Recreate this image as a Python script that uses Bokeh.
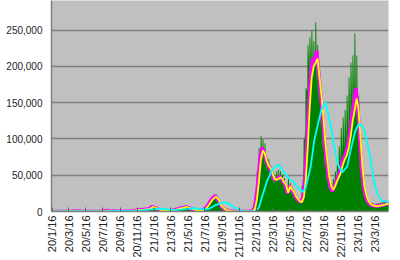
import pandas as pd
from math import pi
from bokeh.plotting import figure
from bokeh.models import Range1d, FixedTicker, NumeralTickFormatter
from bokeh.embed import file_html
from bokeh.resources import INLINE

# ---------------- data ----------------
tick_labels = ["20/1/16", "20/3/16", "20/5/16", "20/7/16", "20/9/16", "20/11/16",
               "21/1/16", "21/3/16", "21/5/16", "21/7/16", "21/9/16", "21/11/16",
               "22/1/16", "22/3/16", "22/5/16", "22/7/16", "22/9/16", "22/11/16",
               "23/1/16", "23/3/16"]
y_ticks = [0, 50000, 100000, 150000, 200000, 250000]

# daily new cases (green area), 2020-2021
green_early_dates = ["2020-01-16", "2020-03-01", "2020-04-01", "2020-04-11", "2020-05-01", "2020-05-25",
                     "2020-07-01", "2020-07-20", "2020-08-07", "2020-09-01", "2020-10-01", "2020-11-01",
                     "2020-11-20", "2020-12-10", "2020-12-31", "2021-01-08", "2021-01-20", "2021-02-01",
                     "2021-02-20", "2021-03-10", "2021-04-01", "2021-04-20", "2021-05-08", "2021-05-20",
                     "2021-06-05", "2021-06-25", "2021-07-10", "2021-07-25", "2021-07-29", "2021-08-02",
                     "2021-08-05", "2021-08-09", "2021-08-12", "2021-08-16", "2021-08-20", "2021-08-23",
                     "2021-08-26", "2021-08-30", "2021-09-02", "2021-09-06", "2021-09-09", "2021-09-15",
                     "2021-09-25", "2021-10-10", "2021-10-25", "2021-11-15", "2021-12-15", "2021-12-27"]
green_early = [0, 20, 250, 700, 200, 30,
               150, 700, 1600, 600, 600, 900,
               2400, 3000, 4500, 7900, 5500, 2500,
               1300, 1300, 2500, 5000, 7200, 5800,
               3000, 1800, 2500, 6000, 10700, 9000,
               15200, 13000, 18800, 15000, 25900, 18000,
               24900, 14000, 16700, 7000, 9000, 6000,
               2000, 800, 300, 150, 200, 350]

# 2022-2023: weekly body level (Mondays from 2022-01-03) and weekly high (Tue-Fri around Thursdays from 2022-01-06)
green_lo = [800, 10000, 25000, 50000, 70000, 68000, 64000, 56000, 52000, 46000, 40000, 35000, 38000,
            40000, 40000, 36000, 32000, 24000, 30000, 26000, 23000, 18000, 15000, 12500, 11500,
            16000, 55000, 110000, 165000, 195000, 195000, 180000, 195000, 165000, 145000, 115000,
            82000, 60000, 42000, 30000, 26000, 31000, 38000, 45000, 55000, 68000, 78000, 85000,
            95000, 110000, 130000, 145000, 150000, 125000, 92000, 52000, 31000, 20000, 13000,
            9500, 8000, 7000, 6500, 6500, 7000, 7500, 8000, 8500, 9000, 9000, 9500]
green_hi = [4500, 25000, 55000, 88000, 104000, 100000, 94000, 76000, 72000, 62000, 56000, 51000,
            56000, 58000, 56000, 51000, 46000, 36000, 46000, 39000, 33000, 27000, 22000, 18000,
            17000, 35000, 100000, 170000, 230000, 240000, 250000, 235000, 261000, 230000, 195000,
            160000, 115000, 90000, 60000, 45000, 40000, 45000, 55000, 65000, 90000, 115000, 130000,
            140000, 160000, 185000, 205000, 215000, 246000, 215000, 160000, 90000, 52000, 33000,
            22000, 15000, 13000, 12000, 11000, 11000, 12000, 12000, 13000, 14000, 15000, 13000]

# 7-day average (yellow) - early part at listed dates, then weekly (Wednesdays from 2022-01-05)
avg_early_dates = ["2020-01-16", "2020-03-01", "2020-04-01", "2020-04-14", "2020-05-01", "2020-05-20",
                   "2020-06-15", "2020-07-01", "2020-07-15", "2020-08-05", "2020-08-15", "2020-09-01",
                   "2020-10-01", "2020-11-01", "2020-11-20", "2020-12-10", "2020-12-31", "2021-01-12",
                   "2021-01-25", "2021-02-08", "2021-02-25", "2021-03-15", "2021-04-01", "2021-04-20",
                   "2021-05-14", "2021-06-01", "2021-06-20", "2021-07-05", "2021-07-20", "2021-08-01",
                   "2021-08-12", "2021-08-25", "2021-09-05", "2021-09-15", "2021-10-01", "2021-10-15",
                   "2021-11-01", "2021-12-01", "2021-12-26"]
yellow_early = [0, 15, 200, 550, 250, 30, 50, 120, 350, 1300, 1100, 650, 500, 700, 2100, 2500, 3500,
                6500, 4500, 2000, 1000, 1200, 2000, 4200, 6200, 3800, 1500, 1700, 3500, 9500, 16000,
                20500, 16000, 7000, 2000, 700, 250, 120, 300]
yellow_weekly = [500, 4000, 17000, 42000, 72000, 84000, 80000, 70000, 63000, 60000, 52000, 45000,
                 44000, 45000, 47000, 45000, 40000, 36000, 26000, 35000, 30000, 27000, 21000, 17000,
                 14000, 13000, 20000, 45000, 90000, 145000, 185000, 200000, 205000, 211000, 185000,
                 160000, 130000, 95000, 70000, 48000, 35000, 30000, 35000, 42000, 48000, 54000, 65000,
                 72000, 78000, 88000, 105000, 125000, 140000, 156000, 140000, 100000, 60000, 35000,
                 22000, 15000, 11000, 9000, 8000, 7500, 7500, 8000, 8500, 9000, 10000, 10500, 10000]

# centred average (magenta), same points three days earlier
magenta_early = [0, 15, 220, 600, 250, 30, 50, 130, 380, 1400, 1100, 650, 500, 750, 2200, 2600, 3800,
                 6800, 4600, 2000, 1000, 1200, 2100, 4400, 6400, 3800, 1500, 1700, 3700, 10000, 17000,
                 21500, 16000, 7000, 2000, 700, 250, 120, 300]
magenta_weekly = [500, 4500, 18000, 44000, 75000, 88000, 82000, 71000, 64000, 61000, 52000, 45000,
                  44000, 46000, 48000, 45000, 40000, 36000, 25000, 36000, 30000, 27000, 21000, 17000,
                  14000, 13000, 21000, 47000, 95000, 152000, 195000, 212000, 206000, 222000, 190000,
                  162000, 130000, 95000, 68000, 46000, 33000, 28000, 34000, 42000, 48000, 56000, 68000,
                  75000, 82000, 92000, 110000, 132000, 150000, 170000, 145000, 100000, 58000, 34000,
                  21000, 14000, 10500, 8500, 7800, 7500, 7500, 8000, 8500, 9000, 10000, 10500, 9500]

# long average (cyan)
cyan_dates = ["2020-01-16", "2020-03-15", "2020-04-25", "2020-06-01", "2020-07-10", "2020-08-20",
              "2020-10-01", "2020-11-10", "2020-12-10", "2021-01-05", "2021-02-05", "2021-03-05",
              "2021-04-05", "2021-05-10", "2021-06-10", "2021-07-10", "2021-08-01", "2021-08-20",
              "2021-09-10", "2021-09-28", "2021-10-15", "2021-11-01", "2021-11-20", "2021-12-05",
              "2022-01-10", "2022-01-25", "2022-02-10", "2022-02-25", "2022-03-15", "2022-04-05",
              "2022-04-25", "2022-05-10", "2022-05-31", "2022-06-15", "2022-07-01", "2022-07-12",
              "2022-07-30", "2022-08-12", "2022-08-25", "2022-09-08", "2022-09-22", "2022-10-09",
              "2022-10-25", "2022-11-05", "2022-11-20", "2022-12-08", "2022-12-20", "2023-01-05",
              "2023-01-19", "2023-02-05", "2023-02-15", "2023-02-28", "2023-03-12", "2023-03-25",
              "2023-04-10", "2023-05-07"]
cyan_vals = [0, 50, 350, 250, 200, 900, 800, 800, 1800, 2800, 4000, 3000,
             2000, 3500, 4500, 3000, 4000, 8000, 11500, 12500, 9500, 5000, 1500, 300,
             200, 5000, 25000, 43000, 58000, 65000, 55000, 47000, 40000, 33000, 27000, 32000,
             61000, 98000, 120000, 142000, 151000, 120000, 85000, 65000, 54000, 62000, 84000, 110000,
             121000, 115000, 100000, 75000, 45000, 25000, 15000, 13000]

# ---------------- assemble ----------------
one_day = pd.Timedelta(days=1)
mondays = pd.date_range("2022-01-03", periods=len(green_lo), freq="7D")
thursdays = pd.date_range("2022-01-06", periods=len(green_hi), freq="7D")
g_x, g_y = list(pd.to_datetime(green_early_dates)), list(green_early)
for i in range(len(green_lo)):
    g_x.append(mondays[i]); g_y.append(green_lo[i])
    if i < len(green_hi):
        g_x += [thursdays[i] - 2 * one_day, thursdays[i] + one_day]
        g_y += [green_hi[i], green_hi[i]]

weekly = pd.date_range("2022-01-05", periods=len(yellow_weekly), freq="7D")
y_x = list(pd.to_datetime(avg_early_dates)) + list(weekly)
y_y = yellow_early + yellow_weekly
m_x = [d - 3 * one_day for d in y_x]
m_y = magenta_early + magenta_weekly

tick_dates = [pd.Timestamp(2000 + int(s.split("/")[0]), int(s.split("/")[1]), int(s.split("/")[2]))
              for s in tick_labels]
tick_ms = [t.value / 1e6 for t in tick_dates]

x0 = pd.Timestamp("2020-01-14").value / 1e6
x1 = pd.Timestamp("2023-05-05").value / 1e6

p = figure(width=400, height=260, x_axis_type="datetime", output_backend="svg",
           toolbar_location=None, x_range=Range1d(x0, x1), y_range=Range1d(0, 291000),
           min_border_left=51, min_border_right=12, min_border_top=0, min_border_bottom=49)
p.background_fill_color = "#c0c0c0"
p.border_fill_color = "white"
p.outline_line_color = None
p.xgrid.visible = False
p.ygrid.grid_line_color = "#808080"
p.ygrid.grid_line_width = 1.5
p.ygrid.ticker = FixedTicker(ticks=y_ticks)

p.yaxis.ticker = FixedTicker(ticks=y_ticks)
p.yaxis.formatter = NumeralTickFormatter(format="0,0")
p.yaxis.axis_line_color = "#808080"
p.yaxis.axis_line_width = 1.5
p.yaxis.major_tick_out = 0
p.yaxis.major_tick_in = 0
p.yaxis.minor_tick_line_color = None
p.yaxis.major_label_standoff = 9
p.yaxis.major_label_text_font = "Liberation Sans"
p.yaxis.major_label_text_font_size = "10px"
p.yaxis.major_label_text_color = "#222222"

p.xaxis.ticker = FixedTicker(ticks=tick_ms)
p.xaxis.major_label_overrides = {t: s for t, s in zip(tick_ms, tick_labels)}
p.xaxis.major_label_orientation = pi / 2
p.xaxis.axis_line_color = "#808080"
p.xaxis.axis_line_width = 1.5
p.xaxis.major_tick_in = 4
p.xaxis.major_tick_out = 0
p.xaxis.major_tick_line_color = "#606060"
p.xaxis.minor_tick_line_color = None
p.xaxis.major_label_standoff = 4
p.xaxis.major_label_text_font = "Liberation Sans"
p.xaxis.major_label_text_font_size = "11px"
p.xaxis.major_label_text_color = "#222222"

p.varea(x=g_x, y1=0, y2=g_y, fill_color="#008000")
p.line(x=m_x, y=m_y, line_color="#ff00ff", line_width=3.5)
p.line(x=y_x, y=y_y, line_color="#ffff00", line_width=1.8)
p.line(x=pd.to_datetime(cyan_dates), y=cyan_vals, line_color="#00ffff", line_width=1.8)

open("out.html", "w").write(file_html(p, INLINE))
